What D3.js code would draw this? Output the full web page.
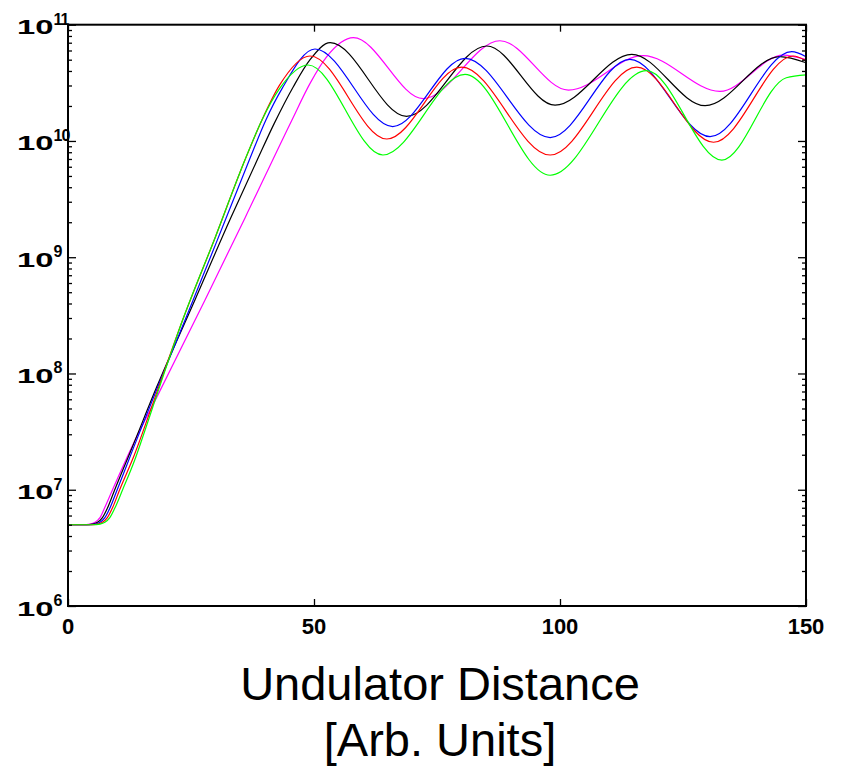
<!DOCTYPE html>
<html>
<head>
<meta charset="utf-8">
<script src="https://cdn.jsdelivr.net/npm/d3@7"></script>
<style>
  body { margin: 0; background: #fff; }
  svg { display: block; }
</style>
</head>
<body>
<div id="chart"></div>
<script>
// x ticks and log decades
const xTicks = [0, 50, 100, 150];
const yDecades = [6, 7, 8, 9, 10, 11];
const axisTitle = ["Undulator Distance", "[Arb. Units]"];

// each run: [distance, power]
const runGreen = [[0,5e6],[5,5e6],[6.5,5.07e6],[7.5,5.25e6],[8.5,5.75e6],[9.5,6.92e6],[11.1,1e7],[13.6,1.82e7],[15,2.69e7],[17.3,5.25e7],[23.3,2.88e8],[30,1.51e9],[36,6.92e9],[39.4,1.51e10],[43,2.82e10],[48.8,4.5e10],[64,7.57e9],[80.7,3.74e10],[98,5.07e9],[117.6,4.02e10],[132.9,6.85e9],[146,3.5e10],[150,3.7e10]];
const runRed = [[0,5e6],[4.5,5e6],[6,5.07e6],[7,5.25e6],[8,5.75e6],[9,6.92e6],[10.5,1e7],[13.5,2.0e7],[17.5,5.9e7],[23.3,2.88e8],[30,1.51e9],[36,6.92e9],[39.4,1.51e10],[43,3.02e10],[49.2,5.38e10],[64.8,1.04e10],[80,4.31e10],[98,7.57e9],[115.6,4.31e10],[131.2,9.75e9],[147.4,5.38e10],[150,4.9e10]];
const runBlue = [[0,5e6],[4,5e6],[5.5,5.07e6],[6.5,5.25e6],[7.5,5.75e6],[8.5,6.92e6],[10,1e7],[13.3,2.29e7],[18,7.24e7],[23.8,2.88e8],[30,1.29e9],[36.85,6.85e9],[40.2,1.51e10],[43.5,2.82e10],[50.2,6.18e10],[66,1.33e10],[80.7,5.14e10],[98,1.07e10],[114.2,5.04e10],[130.5,1.09e10],[147.1,5.86e10],[150,5.31e10]];
const runBlack = [[0,5e6],[3.5,5e6],[5,5.07e6],[6,5.25e6],[7,5.75e6],[8,6.92e6],[9.5,1e7],[13,2.29e7],[18,7.6e7],[25.8,4.29e8],[33,2.14e9],[38.5,6.92e9],[41.9,1.41e10],[45.8,2.93e10],[49.2,5.0e10],[53.3,7.0e10],[68.8,1.63e10],[85.1,6.56e10],[99,2.03e10],[114.6,5.56e10],[129.5,2.01e10],[144.7,5.31e10],[150,4.71e10]];
const runMagenta = [[0,5e6],[3,5e6],[4.5,5.07e6],[5.5,5.25e6],[6.5,5.75e6],[7.5,7.08e6],[8.74,9.33e6],[13.5,2.6e7],[18,6.2e7],[27.85,4.29e8],[36,2.19e9],[45.5,1.51e10],[49.2,3.13e10],[52.6,5.31e10],[58,7.73e10],[72.2,2.31e10],[87.8,7.28e10],[101.7,2.74e10],[116.9,5.41e10],[132.5,2.67e10],[145.4,5.48e10],[150,5.01e10]];

const runs = [
    { color: "#ff00ff", points: runMagenta },
    { color: "#000000", points: runBlack },
    { color: "#0000ff", points: runBlue },
    { color: "#ff0000", points: runRed },
    { color: "#00ff00", points: runGreen }
];

function init() {
    const width = 843;
    const height = 767;
    const margin = { top: 24.7, right: 37, bottom: 161, left: 68 };
    const tickFont = "'Liberation Sans', Arial, Helvetica, sans-serif";

    const xScale = d3.scaleLinear().domain([0, 150]).range([margin.left, width - margin.right]);
    const yScale = d3.scaleLog().domain([1e6, 1e11]).range([height - margin.bottom, margin.top]);

    const svg = d3.select("#chart")
        .append("svg")
        .attr("width", width)
        .attr("height", height);

    const plotW = width - margin.left - margin.right;
    const plotH = height - margin.top - margin.bottom;

    // minor log ticks 2..9 in every decade
    const minor = [];
    yDecades.slice(0, -1).forEach(e => {
        for (let m = 2; m <= 9; m++) minor.push(m * Math.pow(10, e));
    });
    const major = yDecades.map(e => Math.pow(10, e));

    // curves
    const line = d3.line()
        .x(d => xScale(d[0]))
        .y(d => yScale(d[1]))
        .curve(d3.curveMonotoneX);

    svg.append("g")
        .selectAll("path")
        .data(runs)
        .enter()
        .append("path")
        .attr("d", d => line(d.points))
        .attr("fill", "none")
        .attr("stroke", d => d.color)
        .attr("stroke-width", 1.2);

    // ticks, all pointing inward
    const tickGroup = (axis, tx, ty) => svg.append("g")
        .attr("transform", `translate(${tx},${ty})`)
        .call(axis)
        .call(g => g.select(".domain").remove())
        .call(g => g.selectAll("line").attr("stroke", "#000").attr("stroke-width", 1.3));

    tickGroup(d3.axisLeft(yScale).tickValues(major).tickSize(-8).tickFormat(""), margin.left, 0);
    tickGroup(d3.axisLeft(yScale).tickValues(minor).tickSize(-4).tickFormat(""), margin.left, 0);
    tickGroup(d3.axisRight(yScale).tickValues(major).tickSize(-8).tickFormat(""), width - margin.right, 0);
    tickGroup(d3.axisRight(yScale).tickValues(minor).tickSize(-4).tickFormat(""), width - margin.right, 0);
    tickGroup(d3.axisBottom(xScale).tickValues(xTicks).tickSize(-7).tickFormat(""), 0, height - margin.bottom);
    tickGroup(d3.axisTop(xScale).tickValues(xTicks).tickSize(-7).tickFormat(""), 0, margin.top);

    // frame
    svg.append("rect")
        .attr("x", margin.left)
        .attr("y", margin.top)
        .attr("width", plotW)
        .attr("height", plotH)
        .attr("fill", "none")
        .attr("stroke", "#000")
        .attr("stroke-width", 2);

    // x tick labels
    svg.append("g")
        .selectAll("text")
        .data(xTicks)
        .enter()
        .append("text")
        .attr("x", d => xScale(d))
        .attr("y", height - margin.bottom + 28)
        .attr("text-anchor", "middle")
        .attr("font-family", tickFont)
        .attr("font-weight", "bold")
        .attr("font-size", 22)
        .text(d => d);

    // y tick labels as 10^n, the base is drawn wide like the original
    const yLab = svg.append("g")
        .selectAll("g")
        .data(yDecades)
        .enter()
        .append("g")
        .attr("transform", d => `translate(0,${yScale(Math.pow(10, d))})`)
        .attr("font-family", tickFont)
        .attr("font-weight", "bold");

    yLab.append("text")
        .attr("transform", "translate(53.5,9.5) scale(1.6,1)")
        .attr("text-anchor", "end")
        .attr("font-size", 20.5)
        .text("10");

    yLab.append("text")
        .attr("x", 53.5)
        .attr("y", 0)
        .attr("font-size", 16)
        .attr("letter-spacing", -1)
        .text(d => d);

    // axis title
    svg.append("text")
        .attr("x", 440)
        .attr("y", 700)
        .attr("text-anchor", "middle")
        .attr("font-family", tickFont)
        .attr("font-size", 47)
        .text(axisTitle[0]);

    svg.append("text")
        .attr("x", 440)
        .attr("y", 756)
        .attr("text-anchor", "middle")
        .attr("font-family", tickFont)
        .attr("font-size", 47)
        .text(axisTitle[1]);
}

window.onload = init;
</script>
</body>
</html>
